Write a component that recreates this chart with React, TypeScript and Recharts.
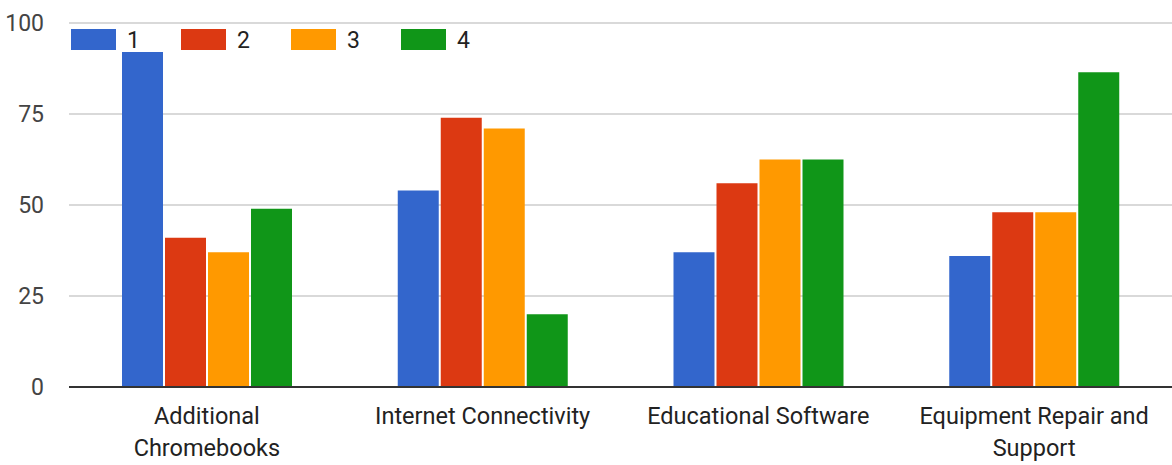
import React from "react";
import { BarChart, Bar, XAxis, YAxis, CartesianGrid } from "recharts";

const categories = [
  "Additional Chromebooks",
  "Internet Connectivity",
  "Educational Software",
  "Equipment Repair and Support",
];
const series1 = [92, 54, 37, 36];
const series2 = [41, 74, 56, 48];
const series3 = [37, 71, 62.5, 48];
const series4 = [49, 20, 62.5, 86.5];
const yTicks = [0, 25, 50, 75, 100];

const SERIES = [
  { key: "s1", name: "1", color: "#3366cc" },
  { key: "s2", name: "2", color: "#dc3912" },
  { key: "s3", name: "3", color: "#ff9900" },
  { key: "s4", name: "4", color: "#109618" },
];

const data = categories.map((name, i) => ({
  name,
  s1: series1[i],
  s2: series2[i],
  s3: series3[i],
  s4: series4[i],
}));

const FONT = "Roboto, Arial, sans-serif";
const CAT_SIZE = 23.5;
const MAX_LABEL = 244;

let ctx: CanvasRenderingContext2D | null = null;
const measure = (s: string) => {
  if (!ctx) ctx = document.createElement("canvas").getContext("2d");
  if (!ctx) return s.length * CAT_SIZE * 0.5;
  ctx.font = `${CAT_SIZE}px ${FONT}`;
  return ctx.measureText(s).width;
};

// greedy word wrap
const wrap = (label: string) => {
  const lines: string[] = [];
  let cur = "";
  label.split(" ").forEach((w) => {
    const next = cur ? cur + " " + w : w;
    if (cur && measure(next) > MAX_LABEL) {
      lines.push(cur);
      cur = w;
    } else cur = next;
  });
  if (cur) lines.push(cur);
  return lines;
};

const CategoryTick = ({ x, y, payload }: any) => (
  <text
    x={x}
    y={y + 29}
    textAnchor="middle"
    fontSize={CAT_SIZE}
    fontFamily={FONT}
    fill="#222"
  >
    {wrap(String(payload.value)).map((line, i) => (
      <tspan key={i} x={x} dy={i === 0 ? 0 : 32}>
        {line}
      </tspan>
    ))}
  </text>
);

// legend drawn on top of the plot, like the original
const LegendOverlay = () => (
  <svg
    width={460}
    height={30}
    style={{ position: "absolute", left: 71, top: 28, pointerEvents: "none" }}
  >
    {SERIES.map((s, i) => (
      <g key={s.key} transform={`translate(${i * 110}, 0)`}>
        <rect x={0} y={1} width={45} height={21} fill={s.color} />
        <text x={56} y={20} fontSize={23} fontFamily={FONT} fill="#222">
          {s.name}
        </text>
      </g>
    ))}
  </svg>
);

export default function App() {
  return (
    <div style={{ position: "absolute", left: 0, top: 0, width: 1172, height: 465, background: "#fff" }}>
      <BarChart
        width={1172}
        height={465}
        data={data}
        margin={{ top: 23, right: 0, left: 0, bottom: 0 }}
        barCategoryGap={53}
        barGap={2}
      >
        <CartesianGrid vertical={false} stroke="#cccccc" strokeWidth={1.5} />
        <XAxis
          dataKey="name"
          axisLine={{ stroke: "#333333", strokeWidth: 2 }}
          tickLine={false}
          tick={<CategoryTick />}
          interval={0}
          height={78}
        />
        <YAxis
          width={69}
          domain={[0, 100]}
          ticks={yTicks}
          axisLine={false}
          tickLine={false}
          tickSize={0}
          tickMargin={25}
          tick={{ fontSize: 23, fontFamily: FONT, fill: "#444" }}
        />
        {SERIES.map((s) => (
          <Bar key={s.key} dataKey={s.key} name={s.name} fill={s.color} isAnimationActive={false} />
        ))}
      </BarChart>
      <LegendOverlay />
    </div>
  );
}
